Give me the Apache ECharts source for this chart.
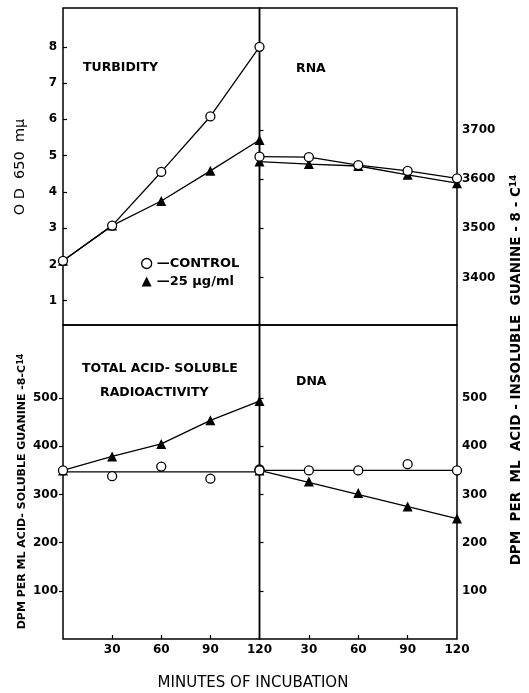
<!DOCTYPE html>
<html>
<head>
<meta charset="utf-8">
<script src="https://cdn.jsdelivr.net/npm/echarts@6/dist/echarts.min.js"></script>
<style>html,body{margin:0;padding:0;background:#fff}#c{width:529px;height:693px}</style>
</head>
<body>
<div id="c"></div>
<script>
// ---- data ----
const minutes = [0, 30, 60, 90, 120];
const fitMinutes = [0, 120];
const turbControl = [2.1, 3.07, 4.55, 6.08, 8.0];
const turbTreated = [2.1, 3.07, 3.75, 4.58, 5.43];
const rnaControl = [3646, 3645, 3629, 3617, 3602];
const rnaTreated = [3636, 3631, 3627, 3609, 3592];
const solControl = [350, 338, 358, 333, 352];
const solControlFit = [347, 347];
const solTreated = [350, 379, 405, 454, 494];
const dnaControl = [350, 350, 350, 363, 350];
const dnaControlFit = [350, 350];
const dnaTreated = [350, 327, 303, 275, 250];
const dnaTreatedFit = [350, 250];
const xTicks = [30, 60, 90, 120];
const xTickMarks = [30, 60, 90];
const odTicks = [1, 2, 3, 4, 5, 6, 7, 8];
const rnaTicks = [3400, 3500, 3600, 3700];
const dpmTicks = [100, 200, 300, 400, 500];

const zip = (xs, ys) => xs.map((x, i) => [x, ys[i]]);
const FONT = '"DejaVu Sans", sans-serif';
const BLACK = '#000';

const grids = [
  {left: 63, top: 8, width: 196.5, height: 317},
  {left: 259.5, top: 8, width: 197.5, height: 317},
  {left: 63, top: 325, width: 196.5, height: 314},
  {left: 259.5, top: 325, width: 197.5, height: 314}
].map(g => Object.assign({show: true, borderColor: BLACK, borderWidth: 1.5, backgroundColor: 'transparent', containLabel: false}, g));

function xAxis(i, labels) {
  return {
    type: 'value', gridIndex: i, min: 0, max: 120,
    axisLine: {show: false},
    splitLine: {show: false},
    axisTick: labels ? {show: true, inside: true, length: 4, lineStyle: {color: BLACK, width: 1.2}, customValues: xTickMarks} : {show: false},
    axisLabel: labels ? {show: true, customValues: xTicks, color: BLACK, fontFamily: FONT, fontWeight: 'bold', fontSize: 12, margin: 5} : {show: false}
  };
}
function yAxis(i, pos, min, max, ticks, inside) {
  return {
    type: 'value', gridIndex: i, position: pos, min: min, max: max,
    axisLine: {show: false},
    splitLine: {show: false},
    axisTick: {show: true, inside: inside, length: 4, lineStyle: {color: BLACK, width: 1.2}, customValues: ticks},
    axisLabel: {show: true, customValues: ticks, formatter: v => String(v), color: BLACK, fontFamily: FONT, fontWeight: 'bold', fontSize: 12, margin: inside ? 6 : 5}
  };
}

const lineStyle = {color: BLACK, width: 1.3};
const circleStyle = {color: '#fff', borderColor: BLACK, borderWidth: 1.3, opacity: 1};
const triStyle = {color: BLACK, opacity: 1};
function ctrlLine(i, ys) {
  return {name: 'CONTROL', type: 'line', xAxisIndex: i, yAxisIndex: i, data: zip(minutes, ys), symbol: 'circle', symbolSize: 9, itemStyle: circleStyle, lineStyle: lineStyle, z: 4};
}
function trtLine(i, ys) {
  return {name: '25 μg/ml', type: 'line', xAxisIndex: i, yAxisIndex: i, data: zip(minutes, ys), symbol: 'triangle', symbolSize: 10, itemStyle: triStyle, lineStyle: lineStyle, z: 3};
}
function fitLine(i, ys) {
  return {name: 'fit', type: 'line', xAxisIndex: i, yAxisIndex: i, data: zip(fitMinutes, ys), symbol: 'none', lineStyle: lineStyle, z: 2};
}
function ctrlPts(i, ys) {
  return {name: 'CONTROL', type: 'scatter', xAxisIndex: i, yAxisIndex: i, data: zip(minutes, ys), symbol: 'circle', symbolSize: 9, itemStyle: circleStyle, z: 4};
}
function trtPts(i, ys) {
  return {name: '25 μg/ml', type: 'scatter', xAxisIndex: i, yAxisIndex: i, data: zip(minutes, ys), symbol: 'triangle', symbolSize: 10, itemStyle: triStyle, z: 3};
}

const txt = (t, x, y, font, extra) => ({
  type: 'text', x: x, y: y, silent: true,
  style: Object.assign({text: t, fill: BLACK, font: font + ' ' + FONT, align: 'left', verticalAlign: 'middle'}, extra || {})
});

const option = {
  animation: false,
  backgroundColor: '#fff',
  grid: grids,
  xAxis: [xAxis(0, false), xAxis(1, false), xAxis(2, true), xAxis(3, true)],
  yAxis: [
    yAxis(0, 'left', 0.33, 9.07, odTicks, true),
    yAxis(1, 'right', 3303, 3949, rnaTicks, false),
    yAxis(2, 'left', 0, 652, dpmTicks, false),
    yAxis(3, 'right', 0, 652, dpmTicks, false)
  ],
  legend: {
    orient: 'vertical', left: 136, top: 252, itemWidth: 10, itemHeight: 10, itemGap: 5,
    selectedMode: false,
    formatter: n => '—' + n,
    textStyle: {color: BLACK, fontFamily: FONT, fontSize: 13, fontWeight: 'bold'},
    data: [
      {name: 'CONTROL', icon: 'circle', itemStyle: {color: '#fff', borderColor: BLACK, borderWidth: 1.3}},
      {name: '25 μg/ml', icon: 'triangle', itemStyle: {color: BLACK, borderWidth: 0}}
    ]
  },
  series: [
    trtLine(0, turbTreated), ctrlLine(0, turbControl),
    trtLine(1, rnaTreated), ctrlLine(1, rnaControl),
    trtLine(2, solTreated), fitLine(2, solControlFit), ctrlPts(2, solControl),
    fitLine(3, dnaTreatedFit), trtPts(3, dnaTreated), fitLine(3, dnaControlFit), ctrlPts(3, dnaControl)
  ],
  graphic: [
    txt('TURBIDITY', 83, 68, 'bold 12.5px'),
    txt('RNA', 296, 69, 'bold 12.5px'),
    txt('TOTAL ACID- SOLUBLE', 82, 369, 'bold 12.5px'),
    txt('RADIOACTIVITY', 100, 392.5, 'bold 12.5px'),
    txt('DNA', 296, 381.5, 'bold 12.5px'),
    txt('MINUTES OF INCUBATION', 253, 683, '15px', {align: 'center'}),
    Object.assign(txt('O D  650  mμ', 20, 167, '14.5px', {align: 'center'}), {rotation: Math.PI / 2}),
    Object.assign(txt('DPM PER ML ACID- SOLUBLE GUANINE -8-C{s|14}', 22, 491.5, 'bold 11px', {align: 'center', rich: {s: {fontSize: 8, fontWeight: 'bold', fontFamily: FONT, verticalAlign: 'top', fill: BLACK}}}), {rotation: Math.PI / 2}),
    Object.assign(txt('DPM  PER  ML  ACID - INSOLUBLE  GUANINE - 8 - C{s|14}', 516, 370, 'bold 13.5px', {align: 'center', rich: {s: {fontSize: 9, fontWeight: 'bold', fontFamily: FONT, verticalAlign: 'top', fill: BLACK}}}), {rotation: Math.PI / 2})
  ]
};

const chart = echarts.init(document.getElementById('c'), null, {renderer: 'canvas'});
chart.setOption(option);
</script>
</body>
</html>
